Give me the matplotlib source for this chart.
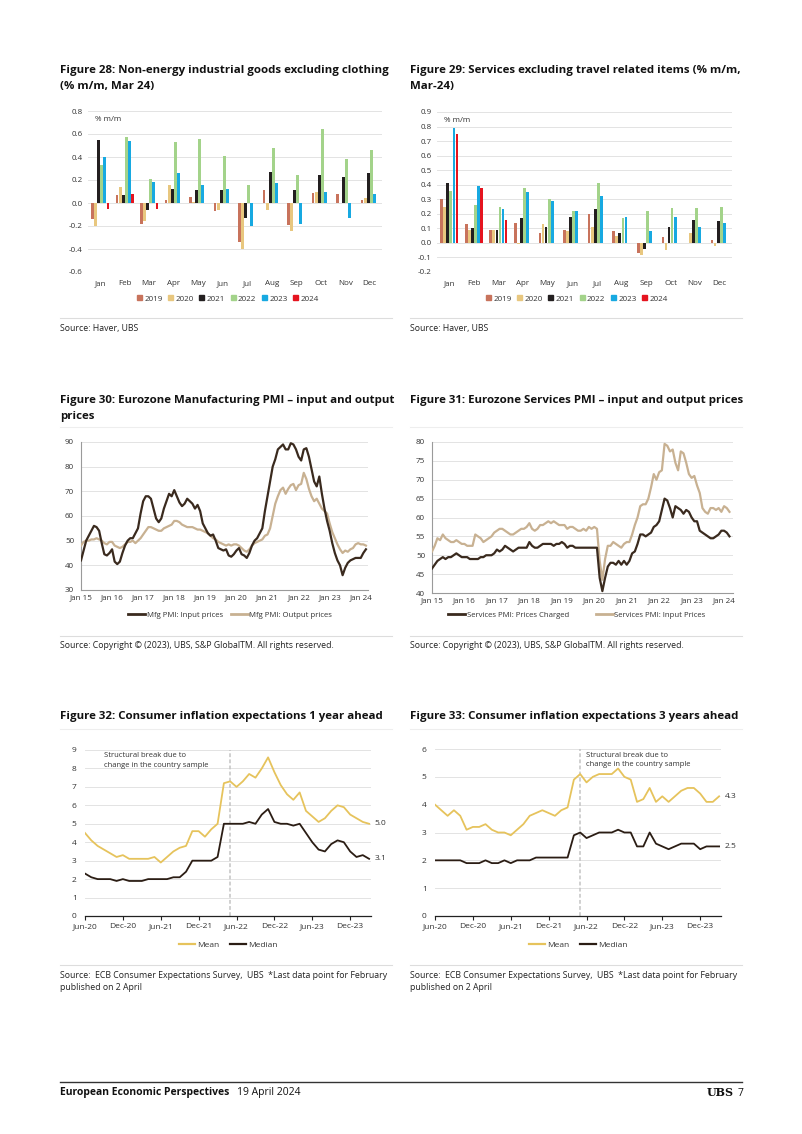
import numpy as np
import matplotlib
matplotlib.use("Agg")
import matplotlib.pyplot as plt
from matplotlib.lines import Line2D
from matplotlib.patches import Patch

W, H = 802, 1134
FONT = ['Open Sans', 'DejaVu Sans']
plt.rcParams['font.family'] = FONT

# ---- data: figure 28 / 29 (% m/m by calendar month) ----
months = ['Jan', 'Feb', 'Mar', 'Apr', 'May', 'Jun', 'Jul', 'Aug', 'Sep', 'Oct', 'Nov', 'Dec']
years = ['2019', '2020', '2021', '2022', '2023', '2024']
year_colors = ['#c8735c', '#e8c77f', '#231f20', '#a3d38a', '#17a9e1', '#e5141f']
nan = np.nan

neig_2019 = [-0.14, 0.07, -0.18, 0.03, 0.05, -0.07, -0.34, 0.11, -0.19, 0.09, 0.08, 0.03]
neig_2020 = [-0.20, 0.14, -0.16, 0.16, 0.01, -0.06, -0.40, -0.06, -0.24, 0.10, 0.00, 0.04]
neig_2021 = [0.55, 0.07, -0.06, 0.12, 0.11, 0.11, -0.13, 0.27, 0.11, 0.24, 0.23, 0.26]
neig_2022 = [0.33, 0.57, 0.21, 0.53, 0.56, 0.41, 0.16, 0.48, 0.24, 0.64, 0.38, 0.46]
neig_2023 = [0.40, 0.54, 0.18, 0.26, 0.16, 0.12, -0.20, 0.17, -0.18, 0.10, -0.13, 0.08]
neig_2024 = [-0.05, 0.08, -0.05, nan, nan, nan, nan, nan, nan, nan, nan, nan]

serv_2019 = [0.30, 0.13, 0.09, 0.14, 0.07, 0.09, 0.20, 0.08, -0.07, 0.04, 0.00, 0.02]
serv_2020 = [0.25, 0.09, 0.09, -0.01, 0.13, 0.08, 0.11, 0.05, -0.08, -0.05, 0.07, -0.02]
serv_2021 = [0.41, 0.10, 0.09, 0.17, 0.11, 0.18, 0.23, 0.07, -0.04, 0.11, 0.16, 0.15]
serv_2022 = [0.36, 0.26, 0.25, 0.38, 0.30, 0.22, 0.41, 0.17, 0.22, 0.24, 0.24, 0.25]
serv_2023 = [0.79, 0.39, 0.23, 0.35, 0.29, 0.22, 0.32, 0.18, 0.08, 0.18, 0.11, 0.14]
serv_2024 = [0.75, 0.38, 0.16, nan, nan, nan, nan, nan, nan, nan, nan, nan]

# ---- data: figure 30 / 31 (monthly, Jan 15 .. Mar 24) ----
pmi_ticks = ['Jan 15', 'Jan 16', 'Jan 17', 'Jan 18', 'Jan 19', 'Jan 20', 'Jan 21', 'Jan 22', 'Jan 23', 'Jan 24']
mfg_input = [42, 46, 50, 52, 54, 56, 55.5, 54, 49, 44.5, 44, 45,
             46.5, 41.5, 40.5, 41.5, 45, 48, 50, 51, 51, 53, 55, 61,
             66, 68, 68, 67, 63, 59, 57.5, 59, 63, 66, 69, 68,
             70.5, 68, 65.5, 64, 65, 67, 66, 65, 63, 64.5, 62, 57,
             55, 53, 52, 52.5, 50, 47, 46.5, 46, 46.5, 44, 43.5, 44.5,
             46, 47, 44.5, 44, 43, 45, 48, 50, 51, 53, 55, 62,
             68, 74, 80, 83, 87, 88, 89, 87, 87, 89.5, 89, 87,
             84, 82.5, 87, 87.5, 84, 79, 74, 72, 76, 69, 63, 58,
             54, 49, 45, 42, 40, 36, 39, 41, 42, 42.5, 43, 43,
             43, 45, 46.5]
mfg_output = [48, 49.5, 50, 50, 50.5, 50.5, 51, 50.5, 50, 49, 48.5, 49.5,
              49.5, 48, 47.5, 47, 47.5, 48.5, 49.5, 49.5, 50, 49, 50, 51,
              52.5, 54, 55.5, 55.5, 55, 54.5, 54, 54, 55, 55.5, 56, 56.5,
              58, 58, 57.5, 56.5, 56, 55.5, 55.5, 55.5, 55, 54.5, 54.5, 54,
              53.5, 53, 52, 51, 50.5, 49.5, 49, 48.5, 48, 48.5, 48, 48.5,
              48.5, 48, 47, 46, 45.5, 46.5, 48, 49, 49.5, 50, 50.5, 52,
              52.5, 55, 60, 65, 68, 70.5, 71.5, 69, 71, 72.5, 73, 70.5,
              72.5, 73, 77.5, 75, 71, 68, 66, 67, 65, 63, 62, 61,
              57, 53.5, 51, 48.5, 46.5, 45, 46, 45.5, 46.5, 47, 48.5, 49,
              48.5, 48.5, 48]
serv_charged = [46.5, 47.5, 48.5, 49, 49.5, 49, 49.5, 49.5, 50, 50.5, 50, 49.5,
                49.5, 49.5, 49, 49, 49, 49, 49.5, 49.5, 50, 50, 50, 50.5,
                51.5, 51, 51.5, 52.5, 52, 51.5, 51, 51.5, 52, 52, 52, 52,
                53.5, 52.5, 52, 52, 52.5, 53, 53, 53, 53, 52.5, 53, 53,
                53.5, 53, 52, 52.5, 52.5, 52, 52, 52, 52, 52, 52, 52,
                52, 52, 44, 40.5, 44, 47, 48, 48, 47.5, 48.5, 47.5, 48.5,
                47.5, 48.5, 50.5, 51, 53, 55.5, 55.5, 55, 55.5, 56, 57.5, 58,
                59, 62, 65, 64.5, 62.5, 60, 63, 62.5, 62, 61, 62, 61.5,
                60, 59, 59, 56.5, 56, 55.5, 55, 54.5, 54.5, 55, 55.5, 56.5,
                56.5, 56, 55]
serv_input = [51, 52.5, 54.5, 54, 55.5, 54.5, 54, 53.5, 53.5, 54, 53.5, 53,
              53, 52.5, 52.5, 52.5, 55.5, 55, 54.5, 53.5, 54, 54.5, 55, 56,
              56.5, 57, 57, 56.5, 56, 55.5, 55.5, 56, 56.5, 57, 57, 57.5,
              58.5, 57, 56.5, 57, 58, 58, 58.5, 59, 58.5, 59, 58.5, 58,
              58, 58, 57, 57.5, 57.5, 57, 56.5, 56.5, 57, 56.5, 57.5, 57,
              57.5, 57, 48.5, 43.5, 49, 52.5, 52.5, 53.5, 53, 52.5, 52, 53,
              53.5, 53.5, 55.5, 58, 60, 63, 63.5, 63.5, 65, 68, 71.5, 70,
              72, 72.5, 79.5, 79, 77.5, 78, 74.5, 72.5, 77.5, 77, 74.5, 71.5,
              70.5, 71, 68.5, 66.5, 62.5, 61.5, 61, 62.5, 62.5, 62, 62.5, 61.5,
              63, 62.5, 61.5]

# ---- data: figure 32 / 33 (monthly, Jun-20 .. Mar-24) ----
cie_ticks = ['Jun-20', 'Dec-20', 'Jun-21', 'Dec-21', 'Jun-22', 'Dec-22', 'Jun-23', 'Dec-23']
mean_1y = [4.5, 4.1, 3.8, 3.6, 3.4, 3.2, 3.3, 3.1, 3.1, 3.1,
           3.1, 3.2, 2.9, 3.2, 3.5, 3.7, 3.8, 4.6, 4.6, 4.3,
           4.7, 5.0, 7.2, 7.3, 7.0, 7.3, 7.7, 7.5, 8.0, 8.6,
           7.8, 7.1, 6.6, 6.3, 6.7, 5.7, 5.4, 5.1, 5.3, 5.7,
           6.0, 5.9, 5.5, 5.3, 5.1, 5.0]
median_1y = [2.3, 2.1, 2.0, 2.0, 2.0, 1.9, 2.0, 1.9, 1.9, 1.9,
             2.0, 2.0, 2.0, 2.0, 2.1, 2.1, 2.4, 3.0, 3.0, 3.0,
             3.0, 3.2, 5.0, 5.0, 5.0, 5.0, 5.1, 5.0, 5.5, 5.8,
             5.1, 5.0, 5.0, 4.9, 5.0, 4.5, 4.0, 3.6, 3.5, 3.9,
             4.1, 4.0, 3.5, 3.2, 3.3, 3.1]
mean_3y = [4.0, 3.8, 3.6, 3.8, 3.6, 3.1, 3.2, 3.2, 3.3, 3.1,
           3.0, 3.0, 2.9, 3.1, 3.3, 3.6, 3.7, 3.8, 3.7, 3.6,
           3.8, 3.9, 4.9, 5.1, 4.8, 5.0, 5.1, 5.1, 5.1, 5.3,
           5.0, 4.9, 4.1, 4.2, 4.6, 4.1, 4.3, 4.1, 4.3, 4.5,
           4.6, 4.6, 4.4, 4.1, 4.1, 4.3]
median_3y = [2.0, 2.0, 2.0, 2.0, 2.0, 1.9, 1.9, 1.9, 2.0, 1.9,
             1.9, 2.0, 1.9, 2.0, 2.0, 2.0, 2.1, 2.1, 2.1, 2.1,
             2.1, 2.1, 2.9, 3.0, 2.8, 2.9, 3.0, 3.0, 3.0, 3.1,
             3.0, 3.0, 2.5, 2.5, 3.0, 2.6, 2.5, 2.4, 2.5, 2.6,
             2.6, 2.6, 2.4, 2.5, 2.5, 2.5]
break_pos = 22.9

TXT = '#333333'
GRID = '#e3e3e3'
DARK = '#3a2a1e'
TAN = '#c8b192'
GOLD = '#e6c35c'
BLACKB = '#2b1d14'


def rect(x0, y0, x1, y1):
    return [x0 / W, 1 - y1 / H, (x1 - x0) / W, (y1 - y0) / H]


def ftext(x, y, s, **kw):
    kw.setdefault('color', '#111111')
    kw.setdefault('va', 'center')
    return fig.text(x / W, 1 - y / H, s, **kw)


def hline(y, x0, x1, color='#dddddd', lw=0.8):
    fig.add_artist(Line2D([x0 / W, x1 / W], [1 - y / H, 1 - y / H], color=color, lw=lw))


fig = plt.figure(figsize=(W / 100, H / 100), dpi=100)

# ---------- titles / sources ----------
tkw = dict(fontsize=8.25, fontweight='bold')
ftext(60, 70, 'Figure 28: Non-energy industrial goods excluding clothing', **tkw)
ftext(60, 86, '(% m/m, Mar 24)', **tkw)
ftext(410, 70, 'Figure 29: Services excluding travel related items (% m/m,', **tkw)
ftext(410, 86, 'Mar-24)', **tkw)
ftext(60, 401, 'Figure 30: Eurozone Manufacturing PMI \u2013 input and output', **tkw)
ftext(60, 416, 'prices', **tkw)
ftext(410, 401, 'Figure 31: Eurozone Services PMI \u2013 input and output prices', **tkw)
ftext(60, 717, 'Figure 32: Consumer inflation expectations 1 year ahead', **tkw)
ftext(410, 717, 'Figure 33: Consumer inflation expectations 3 years ahead', **tkw)

for y in (318, 636, 965):
    hline(y, 60, 392)
    hline(y, 410, 742)
for y in (427, 729):
    hline(y, 60, 392, color='#eeeeee')
    hline(y, 410, 742, color='#eeeeee')

skw = dict(fontsize=6.3, color='#222222')
ftext(60, 328, 'Source: Haver, UBS', **skw)
ftext(410, 328, 'Source: Haver, UBS', **skw)
ftext(60, 646, 'Source: Copyright \u00a9 (2023), UBS, S&P GlobalTM. All rights reserved.', **skw)
ftext(410, 646, 'Source: Copyright \u00a9 (2023), UBS, S&P GlobalTM. All rights reserved.', **skw)
for x0 in (60, 410):
    ftext(x0, 975, 'Source:  ECB Consumer Expectations Survey,  UBS  *Last data point for February', **skw)
    ftext(x0, 988, 'published on 2 April', **skw)

# footer
hline(1082, 60, 742, color='#333333', lw=1.0)
ftext(60, 1093, 'European Economic Perspectives', fontsize=7.5, fontweight='bold')
ftext(237, 1093, '19 April 2024', fontsize=7.5)
ftext(734, 1093, 'UBS', fontsize=8, fontweight='bold', family='DejaVu Serif', ha='right')
ftext(738, 1093, '7', fontsize=7.5)


# ---------- bar charts ----------
def bar_chart(box, series, ylim, step, legend_cx):
    ax = fig.add_axes(rect(*box))
    x = np.arange(len(months))
    w = 0.11
    for k, (vals, col, lab) in enumerate(zip(series, year_colors, years)):
        ax.bar(x + (k - 2.5) * 0.125, vals, width=w, color=col, label=lab, zorder=3)
    ax.set_xlim(-0.5, 11.5)
    ax.set_ylim(*ylim)
    ax.set_yticks(np.round(np.arange(ylim[0], ylim[1] + step / 2, step), 2))
    ax.yaxis.set_major_formatter(matplotlib.ticker.FormatStrFormatter('%.1f'))
    ax.set_xticks(x, months)
    ax.grid(axis='y', color=GRID, lw=0.7, zorder=0)
    for s in ax.spines.values():
        s.set_visible(False)
    ax.tick_params(length=0, labelsize=5.8, labelcolor=TXT, pad=4)
    ax.tick_params(axis='x', pad=6)
    ax.text(0.025, 0.945, '% m/m', transform=ax.transAxes, fontsize=5.8, color=TXT, va='center')
    handles = [Patch(color=c, label=l) for c, l in zip(year_colors, years)]
    ax.legend(handles=handles, loc='center', bbox_to_anchor=(legend_cx / W, 1 - 299 / H),
              bbox_transform=fig.transFigure, ncol=6, frameon=False, fontsize=5.8,
              handlelength=0.6, handleheight=0.6, handletextpad=0.3, columnspacing=0.7,
              labelcolor=TXT)
    return ax


bar_chart((88, 111, 382, 272), [neig_2019, neig_2020, neig_2021, neig_2022, neig_2023, neig_2024],
          (-0.6, 0.8), 0.2, 228)
bar_chart((437, 112, 732, 272), [serv_2019, serv_2020, serv_2021, serv_2022, serv_2023, serv_2024],
          (-0.2, 0.9), 0.1, 577)


# ---------- PMI charts ----------
def pmi_chart(box, a, b, la, lb, ylim, step, legend_cx, colsp, xmax):
    ax = fig.add_axes(rect(*box))
    t = np.arange(len(a))
    ax.plot(t, b, color=TAN, lw=1.6, zorder=3)
    ax.plot(t, a, color=DARK, lw=1.6, zorder=4)
    ax.set_xlim(0, xmax)
    ax.set_ylim(*ylim)
    ax.set_yticks(np.arange(ylim[0], ylim[1] + 1, step))
    ax.set_xticks(np.arange(0, 109, 12), pmi_ticks)
    ax.grid(axis='y', color=GRID, lw=0.7, zorder=0)
    ax.spines['top'].set_visible(False)
    ax.spines['right'].set_visible(False)
    for s in ('left', 'bottom'):
        ax.spines[s].set_color('#9a9a9a')
        ax.spines[s].set_linewidth(0.8)
    ax.tick_params(length=0, labelsize=5.8, labelcolor=TXT, pad=5)
    ax.tick_params(axis='x', pad=3)
    handles = [Line2D([], [], color=DARK, lw=2, label=la), Line2D([], [], color=TAN, lw=2, label=lb)]
    ax.legend(handles=handles, loc='center', bbox_to_anchor=(legend_cx / W, 1 - 615 / H),
              bbox_transform=fig.transFigure, ncol=2, frameon=False, fontsize=5.6,
              handlelength=2.2, handletextpad=0.2, columnspacing=colsp, labelcolor=TXT)


pmi_chart((81, 442, 368, 590), mfg_input, mfg_output, 'Mfg PMI: Input prices', 'Mfg PMI: Output prices',
          (30, 90), 10, 230, 1.0, 110.8)
pmi_chart((432, 442, 733, 593), serv_charged, serv_input, 'Services PMI: Prices Charged',
          'Services PMI: Input Prices', (40, 80), 5, 577, 3.4, 111.3)


# ---------- consumer inflation expectation charts ----------
def cie_chart(box, mean, median, ymax, note_x, legend_cx):
    ax = fig.add_axes(rect(*box))
    t = np.arange(len(mean))
    ax.plot(t, mean, color=GOLD, lw=1.3, zorder=3)
    ax.plot(t, median, color=BLACKB, lw=1.3, zorder=4)
    ax.axvline(break_pos, color='#c4c4c4', lw=1.1, ls=(0, (2.5, 1.5)), zorder=2)
    ax.set_xlim(0, 45.3)
    ax.set_ylim(0, ymax)
    ax.set_yticks(np.arange(0, ymax + 1))
    ax.set_xticks(np.arange(0, 43, 6), cie_ticks)
    ax.grid(axis='y', color=GRID, lw=0.7, zorder=0)
    for s in ('top', 'right', 'left'):
        ax.spines[s].set_visible(False)
    ax.spines['bottom'].set_color('#222222')
    ax.spines['bottom'].set_linewidth(0.9)
    ax.tick_params(axis='y', length=0, labelsize=6, labelcolor=TXT, pad=6)
    ax.tick_params(axis='x', length=3, width=0.8, color='#222222', labelsize=6, labelcolor=TXT, pad=2)
    ax.text(45.9, mean[-1], '%.1f' % mean[-1], fontsize=6, color=TXT, va='center')
    ax.text(45.9, median[-1], '%.1f' % median[-1], fontsize=6, color=TXT, va='center')
    ax.text(note_x, 0.985, 'Structural break due to\nchange in the country sample',
            transform=ax.transAxes, fontsize=5.5, color=TXT, va='top', linespacing=1.45)
    handles = [Line2D([], [], color=GOLD, lw=1.6, label='Mean'), Line2D([], [], color=BLACKB, lw=1.6, label='Median')]
    ax.legend(handles=handles, loc='center', bbox_to_anchor=(legend_cx / W, 1 - 945 / H),
              bbox_transform=fig.transFigure, ncol=2, frameon=False, fontsize=6,
              handlelength=2.0, handletextpad=0.2, columnspacing=1.3, labelcolor=TXT)


cie_chart((85, 750, 371, 916), mean_1y, median_1y, 9, 0.068, 228)
cie_chart((435, 749, 721, 916), mean_3y, median_3y, 6, 0.528, 578)

fig.savefig('out.png', dpi=100, facecolor='white')
